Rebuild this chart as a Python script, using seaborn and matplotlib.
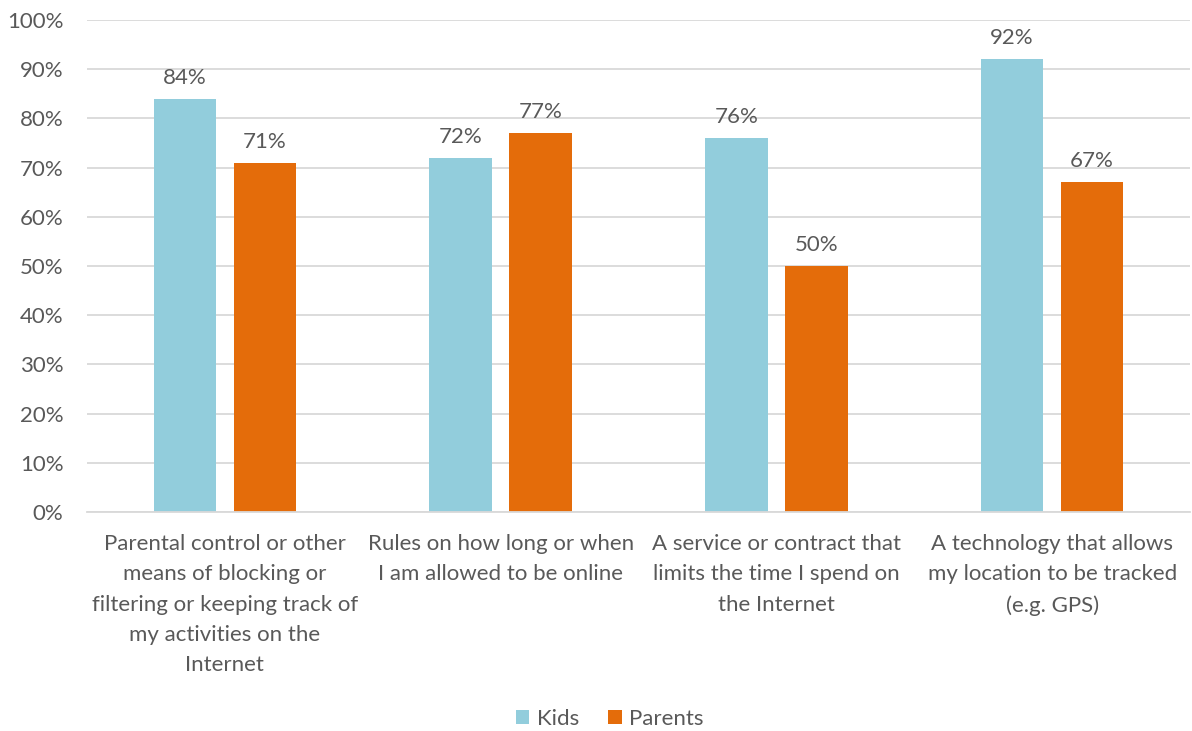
import matplotlib
matplotlib.use("Agg")
import matplotlib.pyplot as plt
import matplotlib.transforms as mtransforms
import seaborn as sns
import pandas as pd
from matplotlib.ticker import PercentFormatter

categories = [
    "Parental control or other\nmeans of blocking or\nfiltering or keeping track of\nmy activities on the\nInternet",
    "Rules on how long or when\nI am allowed to be online",
    "A service or contract that\nlimits the time I spend on\nthe Internet",
    "A technology that allows\nmy location to be tracked\n(e.g. GPS)",
]
kids = [84, 72, 76, 92]
parents = [71, 77, 50, 67]
series = ["Kids", "Parents"]
colors = {"Kids": "#92CDDC", "Parents": "#E46C0A"}

df = pd.DataFrame({
    "category": categories * 2,
    "value": kids + parents,
    "series": ["Kids"] * len(kids) + ["Parents"] * len(parents),
})

sns.set_theme(style="white")
plt.rcParams["font.family"] = ["Lato", "DejaVu Sans"]
text_color = "#595959"
fs = 16

fig = plt.figure(figsize=(11.92, 7.31), dpi=100)
ax = fig.add_axes([87 / 1192, 1 - 512 / 731, (1190 - 87) / 1192, (512 - 20) / 731])

sns.barplot(data=df, x="category", y="value", hue="series", hue_order=series,
            palette=colors, width=0.58, gap=0.22, ax=ax, saturation=1,
            edgecolor="none", legend=True)

for c in ax.containers:
    ax.bar_label(c, labels=[f"{v:.0f}%" for v in c.datavalues], padding=8,
                 fontsize=fs, color=text_color)

ax.set_ylim(0, 100)
ax.set_xlim(-0.5, len(categories) - 0.5)
ax.set_yticks(range(0, 101, 10))
ax.yaxis.set_major_formatter(PercentFormatter(decimals=0))
ax.grid(axis="y", color="#D9D9D9", linewidth=1.3)
ax.set_axisbelow(True)
for s in ["top", "right", "left"]:
    ax.spines[s].set_visible(False)
ax.spines["bottom"].set_color("#D9D9D9")
ax.spines["bottom"].set_linewidth(1.3)
ax.tick_params(axis="both", length=0, labelsize=fs, colors=text_color)
ax.tick_params(axis="y", pad=17)
ax.set_xlabel("")
ax.set_ylabel("")

# category labels with wider line spacing
ax.set_xticks(range(len(categories)))
ax.set_xticklabels([""] * len(categories))
trans = mtransforms.blended_transform_factory(ax.transData, ax.transAxes)
for i, cat in enumerate(categories):
    ax.text(i, -0.045, cat, transform=trans, ha="center", va="top",
            fontsize=fs, color=text_color, linespacing=1.64,
            multialignment="center")

leg = ax.legend(loc="center", ncol=2, frameon=False, fontsize=fs,
                handlelength=0.6, handleheight=0.6, handletextpad=0.35,
                columnspacing=1.3, borderaxespad=0, borderpad=0)
for t in leg.get_texts():
    t.set_color(text_color)
leg.set_bbox_to_anchor((610 / 1192, 1 - 719 / 731), transform=fig.transFigure)

fig.savefig("out.png", dpi=100)
